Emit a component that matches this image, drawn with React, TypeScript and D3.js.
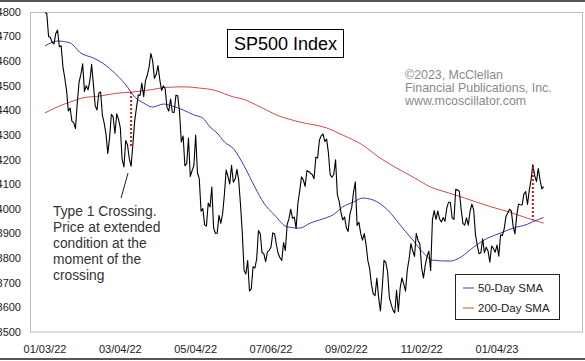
import React from 'react';
import * as d3 from 'd3';

// S&P 500 daily closes, Jan 3 2022 .. Feb 10 2023
const jan22 = [4796.56, 4793.54, 4700.58, 4696.05, 4677.03, 4670.29, 4713.07, 4726.35, 4659.03, 4662.85, 4577.11, 4532.76, 4482.73, 4397.94, 4410.13, 4356.45, 4349.93, 4326.51, 4431.85, 4515.55];
const feb22 = [4546.54, 4589.38, 4477.44, 4500.53, 4483.87, 4521.54, 4587.18, 4504.08, 4418.64, 4401.67, 4471.07, 4475.01, 4380.26, 4348.87, 4304.76, 4225.5, 4288.7, 4384.65, 4373.94];
const mar22 = [4306.26, 4386.54, 4363.49, 4328.87, 4201.09, 4170.7, 4277.88, 4259.52, 4204.31, 4173.11, 4262.45, 4357.86, 4411.67, 4463.12, 4461.18, 4511.61, 4456.24, 4520.16, 4543.06, 4575.52, 4631.6, 4602.45, 4530.41];
const apr22 = [4545.86, 4582.64, 4525.12, 4481.15, 4500.21, 4488.28, 4412.53, 4397.45, 4446.59, 4392.59, 4391.69, 4462.21, 4459.45, 4393.66, 4271.78, 4296.12, 4175.2, 4183.96, 4287.5, 4131.93];
const may22 = [4155.38, 4175.48, 4300.17, 4146.87, 4123.34, 3991.24, 4001.05, 3935.18, 3930.08, 4023.89, 4008.01, 4088.85, 3923.68, 3900.79, 3901.36, 3973.75, 3941.48, 3978.73, 4057.84, 4158.24, 4132.15];
const jun22 = [4101.23, 4176.82, 4108.54, 4121.43, 4160.68, 4115.77, 4017.82, 3900.86, 3749.63, 3735.48, 3789.99, 3666.77, 3674.84, 3764.79, 3759.89, 3795.73, 3911.74, 3900.11, 3821.55, 3818.83, 3785.38];
const jul22 = [3825.33, 3831.39, 3845.08, 3902.62, 3899.38, 3854.43, 3818.8, 3801.78, 3790.38, 3863.16, 3830.85, 3936.69, 3959.9, 3998.95, 3961.63, 3966.84, 3921.05, 4023.61, 4072.43, 4130.29];
const aug22 = [4118.63, 4091.19, 4155.17, 4151.94, 4145.19, 4140.06, 4122.47, 4210.24, 4207.27, 4280.15, 4297.14, 4305.2, 4274.04, 4283.74, 4228.48, 4137.99, 4128.73, 4140.77, 4199.12, 4057.66, 4030.61, 3986.16, 3955.0];
const sep22 = [3966.85, 3924.26, 3908.19, 3979.87, 4006.18, 4067.36, 4110.41, 3932.69, 3946.01, 3901.35, 3873.33, 3899.89, 3855.93, 3789.93, 3757.99, 3693.23, 3655.04, 3647.29, 3719.04, 3640.47, 3585.62];
const oct22 = [3678.43, 3790.93, 3783.28, 3744.52, 3639.66, 3612.39, 3588.84, 3577.03, 3669.91, 3583.07, 3677.95, 3719.98, 3695.16, 3665.78, 3752.75, 3797.34, 3859.11, 3830.6, 3807.3, 3901.06, 3871.98];
const nov22 = [3856.1, 3759.69, 3719.89, 3770.55, 3806.8, 3828.11, 3748.57, 3956.37, 3992.93, 3957.25, 3991.73, 3958.79, 3946.56, 3965.34, 3949.94, 4003.58, 4027.26, 4026.12, 3963.94, 3957.63, 4080.11];
const dec22 = [4076.57, 4071.7, 3998.84, 3941.26, 3933.92, 3963.51, 3934.38, 3990.56, 4019.65, 3995.32, 3895.75, 3852.36, 3817.66, 3821.62, 3878.44, 3822.39, 3844.82, 3829.25, 3783.22, 3849.28, 3839.5];
const jan23 = [3824.14, 3852.97, 3808.1, 3895.08, 3892.09, 3919.25, 3969.61, 3983.17, 3999.09, 3990.97, 3928.86, 3898.85, 3972.61, 4019.81, 4016.95, 4016.22, 4060.43, 4070.56, 4017.77, 4076.6];
const feb23 = [4119.21, 4179.76, 4136.48, 4111.08, 4164.0, 4117.86, 4081.5, 4090.46];

const prices = [...jan22, ...feb22, ...mar22, ...apr22, ...may22, ...jun22, ...jul22, ...aug22, ...sep22, ...oct22, ...nov22, ...dec22, ...jan23, ...feb23];

// 50-day SMA: trading-day index, value
const sma50Idx = [0, 7, 14, 20, 27, 32, 40, 46, 49, 55, 60, 66, 71, 77, 83, 88, 92, 96, 100, 105, 111, 117, 122, 128, 135, 142, 148, 153, 161, 166, 172, 177, 183, 191, 198, 205, 211, 216, 226, 232, 239, 247, 254, 261, 269, 272, 278];
const sma50Val = [4662, 4682, 4674, 4633, 4613, 4593, 4544, 4495, 4463, 4430, 4414, 4426, 4418, 4402, 4382, 4369, 4333, 4308, 4272, 4245, 4175, 4089, 4024, 3975, 3927, 3922, 3943, 3955, 3978, 4008, 4028, 4044, 4036, 3996, 3935, 3874, 3821, 3792, 3788, 3805, 3845, 3882, 3902, 3922, 3938, 3948, 3965];

// 200-day SMA
const sma200Idx = [0, 8, 14, 21, 31, 40, 49, 58, 68, 78, 86, 94, 100, 105, 110, 120, 129, 142, 157, 166, 177, 186, 198, 206, 215, 225, 234, 248, 259, 272, 278];
const sma200Val = [4390, 4418, 4434, 4451, 4459, 4470, 4475, 4483, 4494, 4496, 4491, 4483, 4468, 4455, 4447, 4414, 4382, 4353, 4329, 4300, 4260, 4211, 4158, 4126, 4089, 4065, 4044, 4010, 3987, 3955, 3942];

// crossing markers
const crossIdx = [48, 272];
const crossTop = [4475, 4170];
const crossBottom = [4248, 3955];

// annotation pointer (index, value)
const pointerFrom = [46.3, 4146];
const pointerTo = [42.4, 4044];

const xTickIdx = [0, 42, 84, 126, 168, 210, 252];
const xTickLabels = ['01/03/22', '03/04/22', '05/04/22', '07/06/22', '09/02/22', '11/02/22', '01/04/23'];
const yTicks = [4800, 4700, 4600, 4500, 4400, 4300, 4200, 4100, 4000, 3900, 3800, 3700, 3600, 3500];

const noteLines = ['Type 1 Crossing.', 'Price at extended', 'condition at the', 'moment of the', 'crossing'];
const creditLines = ['\u00A92023, McClellan', 'Financial Publications, Inc.', 'www.mcoscillator.com'];

const W = 585;
const H = 361;
const FONT = '"Liberation Sans", Arial, sans-serif';
const BLUE = '#3c3cc0';
const RED = '#cc4a4a';

export default function App() {
  const x = d3.scaleLinear().domain([0, 252]).range([45, 497]);
  const y = d3.scaleLinear().domain([3500, 4800]).range([332, 12]);

  const priceLine = d3.line<number>().x((_, i) => x(i)).y((d) => y(d));
  const smaLine = d3
    .line<[number, number]>()
    .x((d) => x(d[0]))
    .y((d) => y(d[1]))
    .curve(d3.curveMonotoneX);

  const s50: [number, number][] = sma50Idx.map((d, i) => [d, sma50Val[i]]);
  const s200: [number, number][] = sma200Idx.map((d, i) => [d, sma200Val[i]]);

  return (
    <div style={{ position: 'absolute', left: 0, top: 0 }}>
      <svg width={W} height={H} style={{ display: 'block', background: '#fff' }} fontFamily={FONT}>
        <rect x={0} y={0} width={W} height={H} fill="#fff" />
        <line x1={0} x2={W} y1={1} y2={1} stroke="#555" strokeWidth={2} />
        <line x1={0} x2={W} y1={359} y2={359} stroke="#555" strokeWidth={2} />
        <rect x={30.5} y={12.5} width={552} height={319.5} fill="#fff" stroke="#bdbdbd" strokeWidth={1} />

        {yTicks.map((t) => (
          <text key={t} x={21} y={y(t)} dy="0.35em" textAnchor="end" fontSize={11} fill="#222">
            {t}
          </text>
        ))}
        {xTickIdx.map((t, i) => (
          <text key={t} x={x(t)} y={353} textAnchor="middle" fontSize={11} fill="#222">
            {xTickLabels[i]}
          </text>
        ))}

        <path d={smaLine(s200) || ''} fill="none" stroke={RED} strokeWidth={1} />
        <path d={smaLine(s50) || ''} fill="none" stroke={BLUE} strokeWidth={1} />
        <path d={priceLine(prices) || ''} fill="none" stroke="#000" strokeWidth={1.1} strokeLinejoin="round" />

        {crossIdx.map((c, i) => (
          <line
            key={c}
            x1={x(c)}
            x2={x(c)}
            y1={y(crossTop[i])}
            y2={y(crossBottom[i])}
            stroke="#d01818"
            strokeWidth={2}
            strokeDasharray="2,2"
          />
        ))}

        <line
          x1={x(pointerFrom[0])}
          y1={y(pointerFrom[1])}
          x2={x(pointerTo[0])}
          y2={y(pointerTo[1])}
          stroke="#222"
          strokeWidth={1}
        />
        {noteLines.map((l, i) => (
          <text key={l} x={53} y={216 + i * 16} fontSize={13.8} fill="#333">
            {l}
          </text>
        ))}

        <rect x={227.5} y={29.5} width={116} height={28} fill="#fff" stroke="#000" strokeWidth={1} />
        <text x={285.5} y={49.5} textAnchor="middle" fontSize={18} fill="#000">
          SP500 Index
        </text>

        {creditLines.map((l, i) => (
          <text key={l} x={405} y={79 + i * 13} fontSize={12.4} fill="#8a8a8a">
            {l}
          </text>
        ))}

        <rect x={455.5} y={274.5} width={104} height={45} fill="#fff" stroke="#222" strokeWidth={1} />
        <line x1={463} x2={474} y1={288} y2={288} stroke={BLUE} strokeWidth={1} />
        <text x={478} y={292} fontSize={11.5} fill="#222">50-Day SMA</text>
        <line x1={463} x2={474} y1={308} y2={308} stroke={RED} strokeWidth={1} />
        <text x={478} y={312} fontSize={11.5} fill="#222">200-Day SMA</text>
      </svg>
    </div>
  );
}
